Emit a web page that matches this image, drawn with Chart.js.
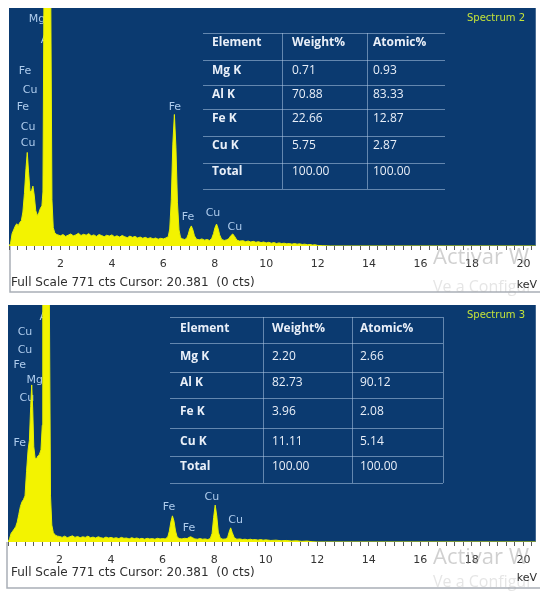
<!DOCTYPE html>
<html>
<head>
<meta charset="utf-8">
<script src="https://cdn.jsdelivr.net/npm/chart.js@4.4.1/dist/chart.umd.min.js"></script>
<style>
  html, body { margin: 0; padding: 0; background: #ffffff; }
  #wrap { position: relative; width: 540px; height: 593px; overflow: hidden; }
  #wrap canvas { position: absolute; left: 0; }
</style>
</head>
<body>
<div id="wrap">
  <canvas id="spec2" width="540" height="296" style="top:0px"></canvas>
  <canvas id="spec3" width="540" height="297" style="top:296px"></canvas>
</div>
<script>
// ---------------- data ----------------
const fullScaleCts = 771;
const cursorKeV = 20.381;
const cursorCts = 0;
const energyMaxKeV = 20.48;
const tickLabelsKeV = [2, 4, 6, 8, 10, 12, 14, 16, 18, 20];

// Spectrum 2
const energy2 = [0, 0.06, 0.12, 0.18, 0.24, 0.30, 0.36, 0.42, 0.48, 0.54, 0.60, 0.66, 0.71, 0.76, 0.82, 0.88, 0.93, 0.98,
  1.04, 1.10, 1.16, 1.22, 1.28, 1.32, 1.37, 1.49, 1.61, 1.67, 1.72, 1.78, 1.86,
  1.9, 2.0, 2.1, 2.2, 2.3, 2.4, 2.5, 2.6, 2.7, 2.8, 2.9, 3.0, 3.1, 3.2, 3.3, 3.4, 3.5, 3.6, 3.7, 3.8, 3.9,
  4.0, 4.1, 4.2, 4.3, 4.4, 4.5, 4.6, 4.7, 4.8, 4.9, 5.0, 5.1, 5.2, 5.3, 5.4, 5.5, 5.6, 5.7, 5.8, 5.9, 6.0, 6.1,
  6.19, 6.25, 6.31, 6.37, 6.43, 6.49, 6.55, 6.61, 6.67, 6.75, 6.83, 6.91,
  6.97, 7.03, 7.09, 7.15, 7.21, 7.29, 7.4, 7.5, 7.6, 7.7, 7.8, 7.88,
  7.95, 8.01, 8.07, 8.13, 8.19, 8.27, 8.37, 8.47, 8.55, 8.62, 8.70, 8.78, 8.86, 8.96,
  9.1, 9.2, 9.3, 9.4, 9.5, 9.6, 9.7, 9.8, 9.9, 10.0, 10.1, 10.2, 10.3, 10.4, 10.5, 10.6, 10.7, 10.8, 10.9,
  11.0, 11.1, 11.2, 11.3, 11.4, 11.5, 11.6, 11.7, 11.8, 11.9, 12.0, 12.2, 12.5, 20.48];
const counts2 = [0, 8, 40, 52, 64, 72, 66, 76, 82, 110, 170, 250, 303, 240, 175, 180, 194, 165,
  115, 98, 108, 122, 130, 175, 1000, 4000, 1000, 150, 60, 42, 37,
  36, 33, 37, 31, 35, 39, 33, 36, 41, 34, 38, 35, 40, 33, 36, 31, 37, 34, 30, 35, 32,
  36, 30, 33, 29, 34, 30, 27, 32, 28, 31, 26, 29, 25, 28, 24, 27, 23, 26, 22, 25, 23, 26,
  30, 55, 150, 330, 426, 320, 140, 52, 27, 23, 21, 25,
  38, 56, 65, 52, 33, 22, 20, 23, 19, 21, 18, 24,
  40, 60, 71, 57, 36, 21, 18, 20, 24, 33, 39, 30, 19, 16,
  17, 14, 16, 13, 15, 12, 14, 11, 13, 10, 12, 9, 11, 8, 10, 8, 9, 7, 8,
  6, 8, 6, 7, 5, 6, 4, 5, 3, 4, 2, 1, 0, 0];

const elements = ['Mg K', 'Al K', 'Fe K', 'Cu K', 'Total'];
const weight2 = ['0.71', '70.88', '22.66', '5.75', '100.00'];
const atomic2 = ['0.93', '83.33', '12.87', '2.87', '100.00'];

// Spectrum 3
const energy3 = [0, 0.06, 0.12, 0.18, 0.24, 0.30, 0.36, 0.42, 0.48, 0.54, 0.60, 0.66, 0.72, 0.78, 0.83, 0.88, 0.92, 0.96,
  1.00, 1.05, 1.10, 1.16, 1.22, 1.28, 1.33, 1.35, 1.47, 1.59, 1.65, 1.70, 1.76, 1.84, 1.92,
  2.0, 2.1, 2.2, 2.3, 2.4, 2.5, 2.6, 2.7, 2.8, 2.9, 3.0, 3.1, 3.2, 3.3, 3.4, 3.5, 3.6, 3.7, 3.8, 3.9,
  4.0, 4.1, 4.2, 4.3, 4.4, 4.5, 4.6, 4.7, 4.8, 4.9, 5.0, 5.1, 5.2, 5.3, 5.4, 5.5, 5.6, 5.7, 5.8, 5.9, 6.0, 6.1,
  6.2, 6.26, 6.32, 6.38, 6.44, 6.50, 6.56, 6.64, 6.75, 6.85, 6.95, 7.02, 7.09, 7.16, 7.25, 7.35, 7.45, 7.55, 7.65, 7.75, 7.85,
  7.92, 7.98, 8.04, 8.10, 8.16, 8.24, 8.34, 8.44, 8.52, 8.58, 8.64, 8.70, 8.78, 8.88,
  9.0, 9.1, 9.2, 9.3, 9.4, 9.5, 9.6, 9.7, 9.8, 9.9, 10.0, 10.2, 10.4, 10.6, 10.8, 11.0, 11.2, 11.4, 11.6, 11.8, 12.0, 20.48];
const counts3 = [0, 10, 28, 35, 42, 50, 65, 90, 115, 130, 138, 150, 230, 300, 330, 440, 511, 430,
  310, 275, 270, 280, 285, 300, 380, 1000, 4000, 1000, 150, 55, 30, 22, 19,
  18, 15, 19, 14, 17, 20, 15, 18, 14, 17, 15, 19, 14, 16, 13, 17, 14, 12, 16, 13,
  15, 12, 14, 11, 15, 12, 13, 10, 14, 11, 13, 10, 12, 9, 12, 10, 11, 9, 12, 10, 11, 10,
  16, 35, 65, 85, 68, 36, 17, 11, 10, 12, 11, 15, 17, 14, 10, 9, 11, 9, 10, 8, 11,
  28, 80, 120, 85, 32, 12, 9, 10, 14, 32, 46, 31, 14, 9,
  10, 8, 9, 7, 9, 7, 8, 6, 8, 6, 7, 5, 6, 4, 5, 3, 4, 2, 3, 1, 0, 0];

const weight3 = ['2.20', '82.73', '3.96', '11.11', '100.00'];
const atomic3 = ['2.66', '90.12', '2.08', '5.14', '100.00'];

// ---------------- styling / layout ----------------
const PANEL_BLUE = '#0b3a70';
const SPECTRUM_YELLOW = '#f3f300';
const TAG_COLOR = '#aecbec';
const TABLE_TEXT = '#e9eff8';
const TABLE_LINE = 'rgba(175,198,228,0.55)';
const SANS = '"DejaVu Sans", sans-serif';
const TABLE_FONT = '"Open Sans", sans-serif';

function drawText(ctx, text, x, y, font, color, align) {
  ctx.font = font;
  ctx.fillStyle = color;
  ctx.textAlign = align || 'left';
  ctx.textBaseline = 'middle';
  ctx.fillText(text, x, y);
}

const panelDecor = {
  id: 'panelDecor',
  beforeDraw(chart, args, o) {
    const { ctx, chartArea: a, width } = chart;
    ctx.save();
    ctx.fillStyle = '#ffffff';
    ctx.fillRect(0, 0, width, chart.height);
    ctx.fillStyle = PANEL_BLUE;
    ctx.fillRect(a.left, a.top, a.right - a.left, a.bottom - a.top);
    ctx.strokeStyle = '#a9afb6';
    ctx.lineWidth = 1.5;
    ctx.beginPath();
    ctx.moveTo(o.frameLeft, a.bottom);
    ctx.lineTo(o.frameLeft, o.frameBottom);
    ctx.lineTo(width, o.frameBottom);
    ctx.stroke();
    ctx.restore();
  },
  beforeDatasetsDraw(chart, args, o) {
    const { ctx, scales: { x, y } } = chart;
    ctx.save();
    o.tags.forEach(([sym, keV, cts]) => {
      drawText(ctx, sym, x.getPixelForValue(keV), y.getPixelForValue(cts), '11px ' + SANS, TAG_COLOR, 'center');
    });
    ctx.restore();
  },
  afterDatasetsDraw(chart, args, o) {
    const { ctx } = chart;
    const t = o.table;
    ctx.save();
    ctx.strokeStyle = TABLE_LINE;
    ctx.lineWidth = 1;
    ctx.beginPath();
    t.hLines.forEach(yy => { ctx.moveTo(t.left, yy + 0.5); ctx.lineTo(t.right, yy + 0.5); });
    const yTop = t.hLines[0], yBot = t.hLines[t.hLines.length - 1];
    t.vLines.forEach(xx => { ctx.moveTo(xx + 0.5, yTop); ctx.lineTo(xx + 0.5, yBot); });
    ctx.stroke();
    const bold = 'bold 12px ' + TABLE_FONT, reg = '12px ' + TABLE_FONT;
    ['Element', 'Weight%', 'Atomic%'].forEach((h, i) => drawText(ctx, h, t.colX[i], t.rowY[0], bold, TABLE_TEXT));
    o.rows.forEach((r, i) => {
      drawText(ctx, r[0], t.colX[0], t.rowY[i + 1], bold, TABLE_TEXT);
      drawText(ctx, r[1], t.colX[1], t.rowY[i + 1], reg, TABLE_TEXT);
      drawText(ctx, r[2], t.colX[2], t.rowY[i + 1], reg, TABLE_TEXT);
    });
    drawText(ctx, o.title, o.titleX, o.titleY, '10px ' + SANS, '#c4e33a');
    ctx.restore();
  },
  afterDraw(chart, args, o) {
    const { ctx } = chart;
    ctx.save();
    drawText(ctx, 'Full Scale ' + fullScaleCts + ' cts Cursor: ' + cursorKeV.toFixed(3) + '  (' + cursorCts + ' cts)',
      o.footX, o.footY, '12px ' + SANS, '#2e2e2e');
    drawText(ctx, 'Activar W', 433, o.markY, '22px "Open Sans", sans-serif', 'rgba(150,150,150,0.45)');
    drawText(ctx, 'Ve a Configur', 433, o.mark2Y, '16px "Open Sans", sans-serif', 'rgba(170,170,170,0.3)');
    drawText(ctx, 'keV', 537, o.kevY, '11px ' + SANS, '#2e2e2e', 'right');
    ctx.restore();
  }
};

function makeSpectrum(id, energies, counts, layout, decor) {
  const points = energies.map((e, i) => ({ x: e, y: counts[i] }));
  return new Chart(document.getElementById(id), {
    type: 'line',
    data: {
      datasets: [{
        data: points,
        borderColor: '#e6f000',
        backgroundColor: SPECTRUM_YELLOW,
        borderWidth: 1,
        pointRadius: 0,
        tension: 0,
        fill: 'origin'
      }]
    },
    options: {
      responsive: false,
      animation: false,
      events: [],
      layout: { padding: { left: layout.left, right: layout.right, top: layout.top, bottom: 0 } },
      plugins: { legend: { display: false }, tooltip: { enabled: false }, panelDecor: decor },
      scales: {
        x: {
          type: 'linear',
          min: 0,
          max: energyMaxKeV,
          afterBuildTicks: s => { s.ticks = Array.from({ length: 62 }, (_, i) => ({ value: i / 3 })); },
          afterFit: s => { s.height = layout.axisH; },
          border: { display: false },
          grid: { drawOnChartArea: false, drawTicks: true, tickLength: 4, color: '#5a5a5a', tickColor: '#5a5a5a' },
          ticks: {
            autoSkip: false,
            maxRotation: 0,
            padding: 8,
            color: '#333333',
            font: { family: SANS, size: 11 },
            callback: v => {
              const k = Math.round(v);
              return (Math.abs(v - k) < 1e-6 && tickLabelsKeV.includes(k)) ? String(k) : '';
            }
          }
        },
        y: { display: false, min: 0, max: fullScaleCts }
      }
    },
    plugins: [panelDecor]
  });
}

const rows2 = elements.map((e, i) => [e, weight2[i], atomic2[i]]);
const rows3 = elements.map((e, i) => [e, weight3[i], atomic3[i]]);

makeSpectrum('spec2', energy2, counts2,
  { left: 9, right: 4, top: 8, axisH: 50 },
  {
    frameLeft: 10, frameBottom: 292,
    tags: [['Mg', 1.09, 736], ['Al', 1.44, 667], ['Fe', 0.62, 567], ['Cu', 0.82, 505], ['Fe', 0.54, 450],
           ['Cu', 0.74, 386], ['Cu', 0.74, 334], ['Fe', 6.45, 450], ['Fe', 6.96, 94], ['Cu', 7.93, 107], ['Cu', 8.78, 62]],
    table: { left: 203, right: 445, hLines: [33, 60, 85, 109, 136, 163, 189], vLines: [282, 367],
             colX: [212, 292, 373], rowY: [43, 71, 95, 119, 146, 172] },
    rows: rows2,
    title: 'Spectrum 2', titleX: 467, titleY: 18,
    footX: 11, footY: 283, kevY: 285, markY: 258, mark2Y: 287
  });

makeSpectrum('spec3', energy3, counts3,
  { left: 6, right: 3, top: 9, axisH: 51 },
  {
    frameLeft: 7, frameBottom: 292,
    tags: [['Al', 1.43, 732], ['Cu', 0.66, 683], ['Cu', 0.66, 625], ['Fe', 0.46, 576], ['Mg', 1.04, 527],
           ['Cu', 0.73, 468], ['Fe', 0.46, 322], ['Fe', 6.25, 114], ['Fe', 7.02, 46], ['Cu', 7.91, 146], ['Cu', 8.83, 72]],
    table: { left: 170, right: 443, hLines: [21, 47, 76, 102, 132, 160, 187], vLines: [263, 352, 443],
             colX: [180, 272, 360], rowY: [33, 61, 87, 116, 146, 171] },
    rows: rows3,
    title: 'Spectrum 3', titleX: 467, titleY: 19,
    footX: 11, footY: 277, kevY: 282, markY: 262, mark2Y: 286
  });
</script>
</body>
</html>
